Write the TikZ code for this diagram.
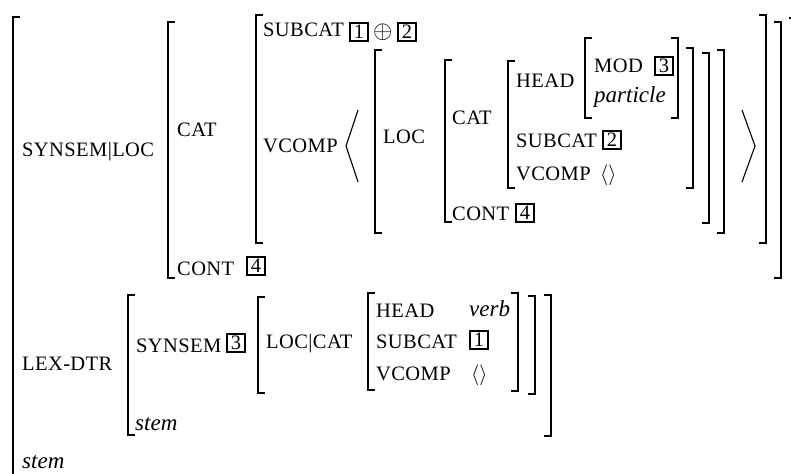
\documentclass[tikz,border=0pt]{standalone}
\usepackage{fontspec}
\setmainfont{Liberation Serif}
\newfontfamily\capsf[LetterSpace=2]{Liberation Serif}
\newcommand\lbrk[3]{\draw[brk] (#1+7,#2) -- (#1,#2) -- (#1,#3) -- (#1+7,#3);}
\newcommand\rbrk[3]{\draw[brk] (#1-7,#2) -- (#1,#2) -- (#1,#3) -- (#1-7,#3);}
\tikzset{
  brk/.style={line width=1.3pt},
  ang/.style={line width=1.1pt},
  feat/.style={anchor=base west, inner sep=0pt, font=\capsf\fontsize{20.5}{23}\selectfont},
  val/.style={anchor=base west, inner sep=0pt, font=\fontsize{23}{26}\selectfont\itshape},
  sym/.style={anchor=base west, inner sep=0pt, font=\fontsize{21}{24}\selectfont},
  tag/.style={draw, line width=2.1pt, minimum size=18pt, inner sep=0pt, font=\fontsize{20.5}{22}\selectfont},
}
\begin{document}
\begin{tikzpicture}[x=1pt,y=-1pt]
\useasboundingbox (0,0) rectangle (791,473);
% outer matrix
\lbrk{13}{17}{480}
\draw[brk] (789,18) -- (800,18) -- (800,480);
\node[feat] (ssl) at (22,157) {SYNSEM|LOC};
\node[feat] (lexdtr) at (22,370) {LEX-DTR};
\node[val] (stemo) at (22,468) {stem};
% SYNSEM|LOC value
\lbrk{168}{22}{278} \rbrk{781}{22}{278}
\node[feat] (cat1) at (177,137) {CAT};
\node[feat] (cont1) at (177,275) {CONT};
\node[tag] (t4b) at (256,266) {4};
% CAT value
\lbrk{256}{15}{243} \rbrk{766}{15}{243}
\node[feat] (sub1) at (263,37) {SUBCAT};
\node[tag] (t1a) at (359,32) {1};
\node[sym, font=\fontsize{23}{26}\selectfont] (op) at (373,39) {$\oplus$};
\node[tag] (t2a) at (407,32) {2};
\node[feat] (vc1) at (263,153) {VCOMP};
\draw[ang] (358,110) -- (346,146) -- (358,182);
\draw[ang] (742,110) -- (755,146) -- (742,182);
% list element
\lbrk{375}{50}{233} \rbrk{724}{50}{233}
\node[feat] (loc) at (383,144) {LOC};
% LOC value
\lbrk{445}{60}{222} \rbrk{709}{53}{223}
\node[feat] (cat2) at (452,125) {CAT};
\node[feat] (cont2) at (452,220) {CONT};
\node[tag] (t4a) at (525,213) {4};
% inner CAT value
\lbrk{508}{61}{188} \rbrk{693}{48}{188}
\node[feat] (head1) at (516,88) {HEAD};
\node[feat] (sub2) at (516,148) {SUBCAT};
\node[tag] (t2b) at (612,140) {2};
\node[feat] (vc2) at (516,180) {VCOMP};
\node[sym] (el1) at (600,180) {$\langle\rangle$};
% HEAD value
\lbrk{585}{38}{118} \rbrk{678}{38}{118}
\node[feat] (mod) at (594,73) {MOD};
\node[tag] (t3a) at (664,66) {3};
\node[val] (part) at (594,103) {particle};
% LEX-DTR value
\lbrk{128}{295}{435} \rbrk{551}{295}{436}
\node[feat] (ss2) at (136,352) {SYNSEM};
\node[tag] (t3b) at (236,343) {3};
\node[val] (stemi) at (135,430) {stem};
% SYNSEM value
\lbrk{258}{297}{393} \rbrk{535}{296}{394}
\node[feat] (loccat) at (266,348) {LOC|CAT};
% LOC|CAT value
\lbrk{368}{293}{390} \rbrk{518}{293}{391}
\node[feat] (head2) at (376,317) {HEAD};
\node[val] (verb) at (469,316) {verb};
\node[feat] (sub3) at (376,348) {SUBCAT};
\node[tag] (t1b) at (479,340) {1};
\node[feat] (vc3) at (376,380) {VCOMP};
\node[sym] (el2) at (471,380) {$\langle\rangle$};
\end{tikzpicture}
\end{document}
